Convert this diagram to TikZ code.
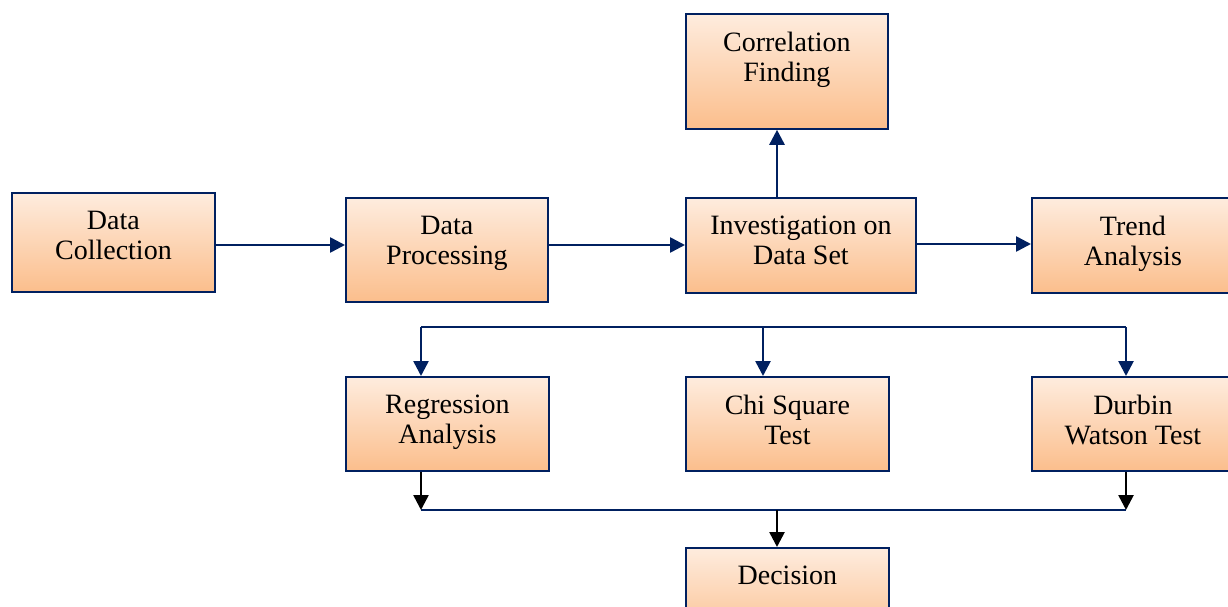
\documentclass[tikz,border=0pt]{standalone}
\usepackage{fontspec}
\setmainfont{Liberation Serif}
\usetikzlibrary{arrows.meta}
\definecolor{navy}{RGB}{0,32,96}
\definecolor{boxtop}{RGB}{254,236,222}
\definecolor{boxbot}{RGB}{251,190,140}
\tikzset{
  stepbox/.style={draw=navy, line width=1.8pt, top color=boxtop, bottom color=boxbot,
    rectangle, anchor=north west, inner sep=0pt},
  lbl/.style={anchor=north, inner sep=0pt, align=center, font=\fontsize{28}{30}\selectfont, yshift=-19pt},
  arr/.style={draw=navy, line width=2.6pt, -{Triangle[length=15pt,width=15pt]}},
  barr/.style={draw=black, line width=2.6pt, -{Triangle[length=15pt,width=15pt]}},
  thin/.style={draw=navy, line width=1.8pt},
}
\begin{document}
\begin{tikzpicture}[x=1pt,y=-1pt]
\useasboundingbox (0,0) rectangle (1228,607);
\clip (0,0) rectangle (1228,607);
\fill[white] (0,0) rectangle (1228,607);
\node[stepbox, minimum width=203pt, minimum height=99pt, label={[lbl]north:Data\\Collection}] (dc) at (11,192) {};
\node[stepbox, minimum width=202pt, minimum height=104pt, label={[lbl]north:Data\\Processing}] (dp) at (345,197) {};
\node[stepbox, minimum width=230pt, minimum height=95pt, label={[lbl]north:Investigation on\\Data Set}] (inv) at (685,197) {};
\node[stepbox, minimum width=202pt, minimum height=115pt, label={[lbl]north:Correlation\\Finding}] (corr) at (685,13) {};
\node[stepbox, minimum width=202pt, minimum height=95pt, label={[lbl]north:Trend\\Analysis}] (trend) at (1031,197) {};
\node[stepbox, minimum width=203pt, minimum height=94pt, label={[lbl]north:Regression\\Analysis}] (reg) at (345,376) {};
\node[stepbox, minimum width=203pt, minimum height=94pt, label={[lbl]north:Chi Square\\Test}] (chi) at (685,376) {};
\node[stepbox, minimum width=202pt, minimum height=94pt, label={[lbl]north:Durbin\\Watson Test}] (dw) at (1031,376) {};
\node[stepbox, minimum width=203pt, minimum height=95pt, label={[lbl]north:Decision}] (dec) at (685,547) {};
% reference coordinates
\coordinate (r1) at (0,245);
\coordinate (r2) at (0,244);
\coordinate (cx) at (777,0);
\coordinate (b1) at (421,327);
\coordinate (b2) at (763,327);
\coordinate (b3) at (1126,327);
\coordinate (m1) at (421,510);
\coordinate (m2) at (777,510);
\coordinate (m3) at (1126,510);
% connectors
\draw[arr] (dc.east |- r1) -- (dp.west |- r1);
\draw[arr] (dp.east |- r1) -- (inv.west |- r1);
\draw[arr] (inv.east |- r2) -- (trend.west |- r2);
\draw[arr] (inv.north -| cx) -- (corr.south -| cx);
\draw[navy, line width=2.6pt] (b1) -- (b3);
\draw[arr] (b1) -- (reg.north -| b1);
\draw[arr] (b2) -- (chi.north -| b2);
\draw[arr] (b3) -- (dw.north -| b3);
\draw[thin] (m1) -- (m3);
\draw[barr] (reg.south -| m1) -- (m1);
\draw[barr] (dw.south -| m3) -- (m3);
\draw[barr] (m2) -- (dec.north -| m2);
\end{tikzpicture}
\end{document}
